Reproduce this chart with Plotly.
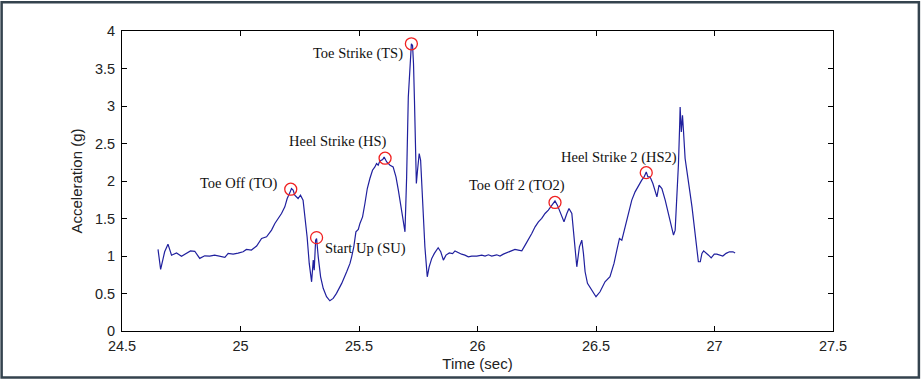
import plotly.graph_objects as go

# ---------------- data ----------------
time_s = [
    24.652, 24.663, 24.680, 24.694, 24.709, 24.730, 24.751, 24.772, 24.789, 24.807,
    24.828, 24.849, 24.870, 24.891, 24.913, 24.934, 24.948, 24.969, 24.990, 25.011,
    25.025, 25.046, 25.068, 25.089, 25.110, 25.131, 25.145, 25.159, 25.173, 25.187,
    25.197, 25.208, 25.215, 25.222, 25.229, 25.243, 25.253, 25.264, 25.272, 25.281,
    25.290, 25.300, 25.307, 25.311, 25.317, 25.321, 25.328, 25.338, 25.349, 25.363,
    25.377, 25.391, 25.405, 25.427, 25.448, 25.462, 25.469, 25.478, 25.487, 25.497,
    25.504, 25.515, 25.525, 25.535, 25.546, 25.557, 25.567, 25.574, 25.581, 25.588,
    25.600, 25.606, 25.617, 25.631, 25.644, 25.656, 25.666, 25.676, 25.684, 25.694,
    25.701, 25.708, 25.715, 25.721, 25.726, 25.730, 25.734, 25.737, 25.742, 25.747,
    25.754, 25.760, 25.769, 25.778, 25.788, 25.796, 25.807, 25.818, 25.834, 25.845,
    25.856, 25.867, 25.881, 25.895, 25.905, 25.919, 25.933, 25.947, 25.961, 25.976,
    25.997, 26.018, 26.032, 26.046, 26.060, 26.081, 26.095, 26.109, 26.123, 26.144,
    26.158, 26.172, 26.187, 26.201, 26.215, 26.229, 26.243, 26.257, 26.271, 26.285,
    26.299, 26.313, 26.327, 26.337, 26.351, 26.365, 26.377, 26.386, 26.398, 26.407,
    26.419, 26.430, 26.440, 26.447, 26.454, 26.464, 26.482, 26.500, 26.517, 26.538,
    26.559, 26.576, 26.588, 26.599, 26.609, 26.623, 26.637, 26.651, 26.665, 26.679,
    26.693, 26.703, 26.712, 26.719, 26.728, 26.740, 26.749, 26.757, 26.766, 26.778,
    26.792, 26.806, 26.817, 26.827, 26.834, 26.841, 26.848, 26.853, 26.855, 26.860,
    26.865, 26.869, 26.876, 26.883, 26.890, 26.897, 26.905, 26.911, 26.918, 26.926,
    26.932, 26.940, 26.947, 26.954, 26.965, 26.975, 26.986, 26.999, 27.010, 27.024,
    27.035, 27.049, 27.063, 27.078, 27.087,
]
accel_g = [
    1.088, 0.822, 1.056, 1.158, 1.011, 1.041, 0.997, 1.033, 1.067, 1.063,
    0.968, 1.003, 0.999, 1.012, 0.999, 0.981, 1.035, 1.025, 1.039, 1.056,
    1.088, 1.079, 1.132, 1.234, 1.256, 1.345, 1.434, 1.501, 1.567, 1.655,
    1.767, 1.842, 1.898, 1.878, 1.811, 1.767, 1.811, 1.745, 1.522, 1.256,
    0.901, 0.656, 0.945, 0.812, 1.211, 1.234, 0.989, 0.723, 0.569, 0.457,
    0.403, 0.435, 0.502, 0.635, 0.790, 0.901, 0.989, 1.122, 1.322, 1.354,
    1.434, 1.522, 1.700, 1.900, 2.033, 2.144, 2.188, 2.233, 2.210, 2.268,
    2.286, 2.321, 2.254, 2.210, 2.188, 2.055, 1.878, 1.700, 1.522, 1.322,
    2.055, 3.120, 3.475, 3.828, 3.808, 3.564, 3.076, 2.410, 1.967, 2.144,
    2.366, 2.277, 1.745, 1.123, 0.723, 0.856, 0.968, 1.035, 1.110, 1.056,
    0.945, 1.012, 1.041, 1.033, 1.068, 1.041, 1.024, 1.012, 0.989, 0.999,
    0.999, 1.012, 0.999, 1.016, 0.999, 1.016, 0.999, 1.025, 1.041, 1.068,
    1.087, 1.079, 1.068, 1.145, 1.234, 1.301, 1.389, 1.456, 1.501, 1.567,
    1.612, 1.678, 1.735, 1.678, 1.567, 1.456, 1.567, 1.634, 1.567, 1.211,
    0.856, 1.123, 1.211, 1.035, 0.790, 0.635, 0.546, 0.457, 0.523, 0.656,
    0.723, 0.901, 1.079, 1.234, 1.211, 1.389, 1.589, 1.745, 1.855, 1.944,
    2.011, 2.055, 2.121, 2.055, 2.055, 1.967, 1.878, 1.789, 1.944, 1.900,
    1.745, 1.567, 1.389, 1.278, 1.345, 1.745, 2.233, 2.743, 2.987, 2.654,
    2.876, 2.676, 2.300, 2.144, 2.011, 1.834, 1.655, 1.478, 1.301, 1.101,
    0.923, 0.923, 1.035, 1.068, 1.041, 1.011, 0.975, 1.024, 1.024, 1.012,
    0.999, 1.035, 1.056, 1.056, 1.041,
]

event_labels = ["Toe Off (TO)", "Start Up (SU)", "Heel Strike (HS)", "Toe Strike (TS)",
                "Toe Off 2 (TO2)", "Heel Strike 2 (HS2)"]
event_time = [25.212, 25.321, 25.610, 25.721, 26.327, 26.712]
event_accel = [1.891, 1.245, 2.304, 3.829, 1.714, 2.111]

x_ticks = [24.5, 25, 25.5, 26, 26.5, 27, 27.5]
x_tick_text = ["24.5", "25", "25.5", "26", "26.5", "27", "27.5"]
y_ticks = [0, 0.5, 1, 1.5, 2, 2.5, 3, 3.5, 4]
y_tick_text = ["0", "0.5", "1", "1.5", "2", "2.5", "3", "3.5", "4"]

# label placement relative to each event marker (pixels): xanchor, xshift, yshift
label_place = [("right", -11, 6), ("left", 6, -10.5), ("center", -47, 17),
               ("right", -6.5, -10), ("center", -38, 17), ("center", -27, 15.5)]

# ---------------- figure ----------------
fig = go.Figure()
fig.add_trace(go.Scatter(
    x=time_s, y=accel_g, mode="lines",
    line=dict(color="#20209e", width=1.2),
    hoverinfo="skip", showlegend=False,
))
fig.add_trace(go.Scatter(
    x=event_time, y=event_accel, mode="markers",
    marker=dict(symbol="circle-open", size=12, color="#f02020", line=dict(width=1.3)),
    showlegend=False,
))

for lab, ex, ey, (anc, xs, ys) in zip(event_labels, event_time, event_accel, label_place):
    fig.add_annotation(
        x=ex, y=ey, xref="x", yref="y", text=lab, showarrow=False,
        xanchor=anc, yanchor="middle", xshift=xs, yshift=ys,
        font=dict(family="Liberation Serif, Times New Roman, serif", size=14.5, color="#111111"),
    )

axis_common = dict(
    showline=True, linecolor="black", linewidth=1, mirror="ticks",
    ticks="inside", ticklen=5, tickcolor="black", tickwidth=1,
    showgrid=False, zeroline=False, automargin=False,
    tickfont=dict(family="Liberation Sans, Arial, sans-serif", size=14.5, color="#222222"),
)

fig.update_xaxes(range=[24.5, 27.5], tickmode="array", tickvals=x_ticks, ticktext=x_tick_text,
                 ticklabelstandoff=2,
                 title=dict(text="Time (sec)", standoff=5,
                            font=dict(family="Liberation Sans, Arial, sans-serif", size=15, color="#222222")),
                 **axis_common)
fig.update_yaxes(range=[0, 4], tickmode="array", tickvals=y_ticks, ticktext=y_tick_text,
                 ticklabelstandoff=3,
                 title=dict(text="Acceleration (g)", standoff=8,
                            font=dict(family="Liberation Sans, Arial, sans-serif", size=15, color="#222222")),
                 **axis_common)

# outer frame of the picture
fig.add_shape(type="rect", xref="paper", yref="paper",
              x0=-0.1693, x1=1.1208, y0=-0.1548, y1=1.0956,
              line=dict(color="#34434e", width=2.5), fillcolor="rgba(0,0,0,0)")

fig.update_layout(
    width=922, height=379,
    margin=dict(l=122, r=89, t=31, b=48, autoexpand=False),
    paper_bgcolor="white", plot_bgcolor="white",
)

fig.write_html("out.html", config={"displayModeBar": False},
               post_script="document.body.style.margin='0';document.body.style.overflow='hidden';")
